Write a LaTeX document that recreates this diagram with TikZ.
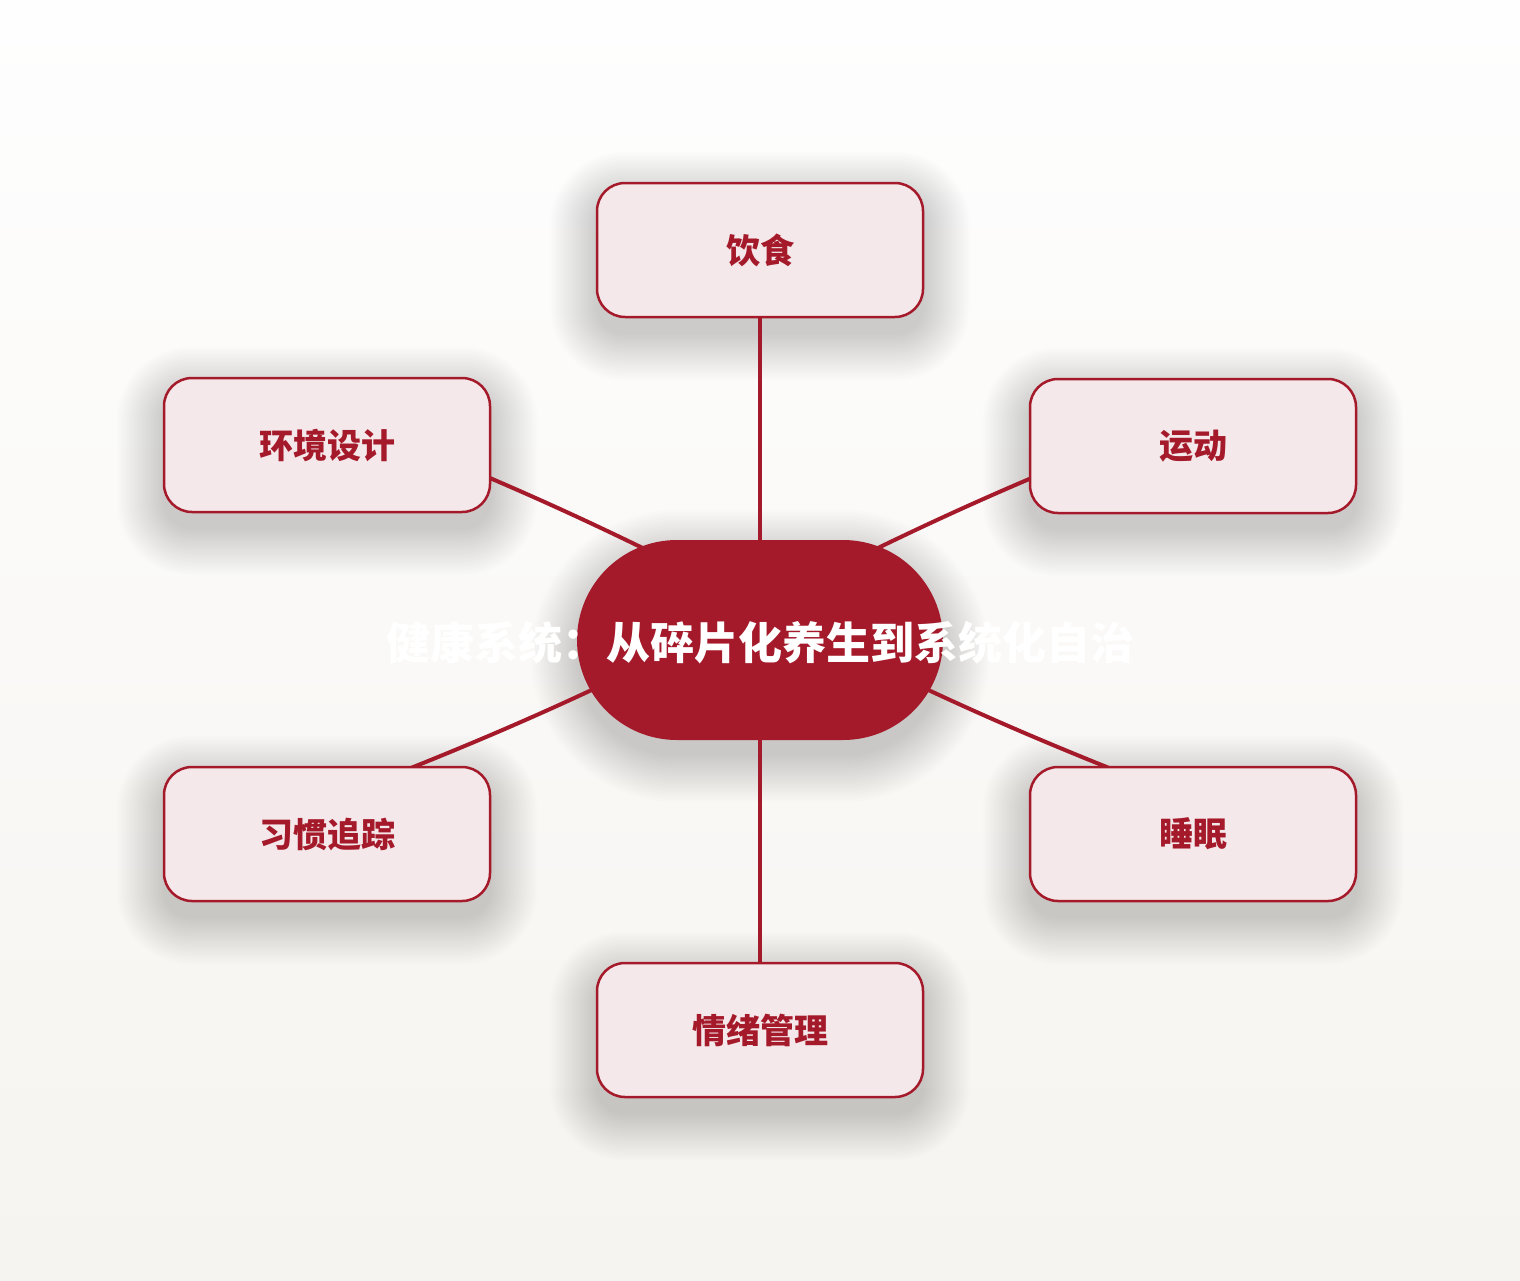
\documentclass[tikz,border=0pt]{standalone}
\usepackage{fontspec}
\newfontfamily\cjk{Noto Sans CJK SC}
\usetikzlibrary{calc}
\definecolor{hred}{HTML}{A51A2A}
\definecolor{boxfill}{HTML}{F4E8EA}
\definecolor{bgtop}{HTML}{FEFEFE}
\definecolor{bgbot}{HTML}{F6F4F0}
\pgfdeclarelayer{bg}
\pgfdeclarelayer{shadow}
\pgfdeclarelayer{lines}
\pgfsetlayers{bg,shadow,lines,main}
\newcommand\softshadow[2]{%
  \begin{pgfonlayer}{shadow}
  \foreach \i in {0,...,23} {
    \pgfmathsetmacro\rr{#2+\i*2}
    \fill[black, opacity=0.006, rounded corners=\rr pt]
      ([xshift=-\i*2pt, yshift=-16pt-\i*2pt]#1.south west) rectangle
      ([xshift=\i*2pt, yshift=-16pt+\i*2pt]#1.north east);
  }
  \end{pgfonlayer}}
\tikzset{
  leaf/.style={draw=hred, line width=2.5pt, fill=boxfill, rounded corners=28pt,
    minimum width=326pt, minimum height=134pt, inner sep=0pt,
    text=hred, font=\cjk\bfseries\fontsize{34}{40}\selectfont},
  hub/.style={fill=hred, rounded corners=100pt, minimum width=366pt,
    minimum height=200pt, inner sep=0pt},
  hubtext/.style={text=white, font=\cjk\bfseries\fontsize{44}{52}\selectfont, inner sep=0pt},
  link/.style={draw=hred, line width=4pt, line cap=round}
}
\begin{document}
\begin{tikzpicture}[x=1pt, y=-1pt]
\begin{pgfonlayer}{bg}
\shade[top color=bgtop, bottom color=bgbot] (0,0) rectangle (1520,1280);
\end{pgfonlayer}
\useasboundingbox (0,0) rectangle (1520,1280);

\node[hub] (c) at (760,640) {};
\node[hubtext] (ct) at (760,643) {健康系统：从碎片化养生到系统化自治};

\node[leaf] (diet)  at (760,250)  {饮食};
\node[leaf] (sport) at (1193,446) {运动};
\node[leaf] (env)   at (327,445)  {环境设计};
\node[leaf] (habit) at (327,834)  {习惯追踪};
\node[leaf] (sleep) at (1193,834) {睡眠};
\node[leaf] (mood)  at (760,1030) {情绪管理};

\softshadow{c}{100}
\softshadow{diet}{28}
\softshadow{sport}{28}
\softshadow{env}{28}
\softshadow{habit}{28}
\softshadow{sleep}{28}
\softshadow{mood}{28}

\begin{pgfonlayer}{lines}
\draw[link] (c.center) -- (diet.center);
\draw[link] (c.center) -- (mood.center);
\draw[link] ([yshift=33pt]c.center) to[bend right=3] ([yshift=33pt]env.center);
\draw[link] ([yshift=33pt]c.center) to[bend left=3] ([yshift=33pt]sport.center);
\draw[link] ([yshift=33pt]c.center) to[bend left=3] ([yshift=33pt]habit.center);
\draw[link] ([yshift=33pt]c.center) to[bend right=3] ([yshift=33pt]sleep.center);
\end{pgfonlayer}
\end{tikzpicture}
\end{document}
